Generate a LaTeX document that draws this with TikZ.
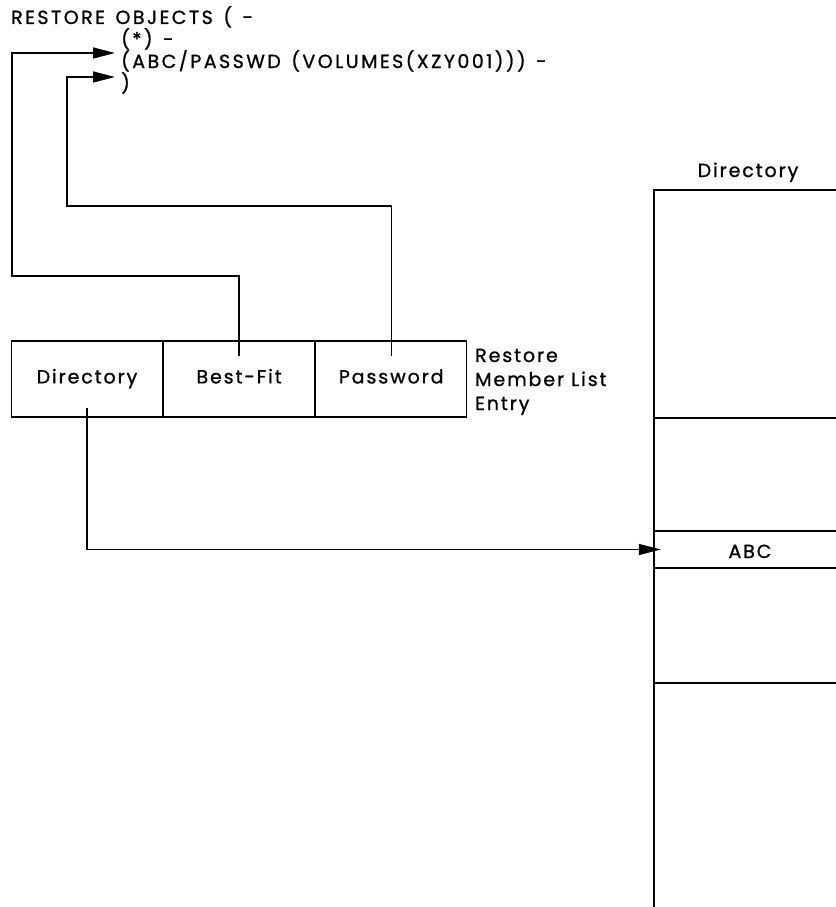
\documentclass[tikz,border=0pt]{standalone}
\usepackage{fontspec}
\setmainfont{Poppins}[FakeBold=1]
\newfontfamily\cmdfont{Poppins}[FakeBold=1, LetterSpace=13, WordSpace=1.4]
\newfontfamily\lblfont{Poppins}[FakeBold=1, LetterSpace=10]
\usetikzlibrary{positioning,arrows.meta,calc}

\tikzset{
  cmd/.style={inner sep=0pt, anchor=base west, font=\cmdfont\fontsize{19}{22}\selectfont},
  txt/.style={inner sep=0pt, font=\lblfont\fontsize{19}{24}\selectfont},
  cell/.style={draw, line width=1.1pt, minimum width=151pt, minimum height=76pt,
    inner sep=0pt, font=\lblfont\fontsize{19}{22}\selectfont},
  link/.style={line width=1.3pt, -{Triangle[length=22pt,width=11pt]}},
  rule/.style={line width=1.1pt},
}

\begin{document}
\begin{tikzpicture}[x=1pt,y=-1pt]
  \useasboundingbox (0,0) rectangle (835,907);
  % command text
  \node[cmd] (cmdline) at (11,24) {RESTORE OBJECTS ( -};
  \node[cmd] (obj1) at (121,46) {(*) -};
  \node[cmd] (obj2) at (121,68) {(ABC/PASSWD (VOLUMES(XZY001))) -};
  \node[cmd] (obj3) at (121,90) {)};
  \coordinate (tip1) at (115,53);
  \coordinate (tip2) at (115,77);

  % member list entry
  \node[cell] (dir) at (87,379) {\strut Directory};
  \node[cell, right=0pt of dir] (fit) {\strut Best-Fit};
  \node[cell, right=0pt of fit] (pwd) {\strut Password};
  \node[txt, anchor=base west, align=left] (entry) at (475,410) {Restore\\Member List\\Entry};

  % directory
  \draw[rule] (654,907) -- (654,190) -- (836,190);
  \foreach \y in {418,531,568,683}
    \draw[rule] (654,\y) -- (836,\y);
  \node[txt, anchor=base] (dirtitle) at (748,177) {Directory};
  \node[txt, minimum width=196pt, minimum height=37pt] (abc) at (752,549.5) {};
  \node[txt, anchor=base] (abclbl) at (750,558) {ABC};

  % connectors
  \coordinate (fitin) at ($(fit.north)+(0,16)$);
  \coordinate (pwdin) at ($(pwd.north)+(0,16)$);
  \coordinate (dirin) at ($(dir.south)+(0,-10)$);
  \draw[link] (fitin) |- (12,276) |- (tip1);
  \draw[link] (pwdin) |- (67,206) |- (tip2);
  \draw[link] (dirin) |- ($(abc.west)+(7,0)$);
\end{tikzpicture}
\end{document}
